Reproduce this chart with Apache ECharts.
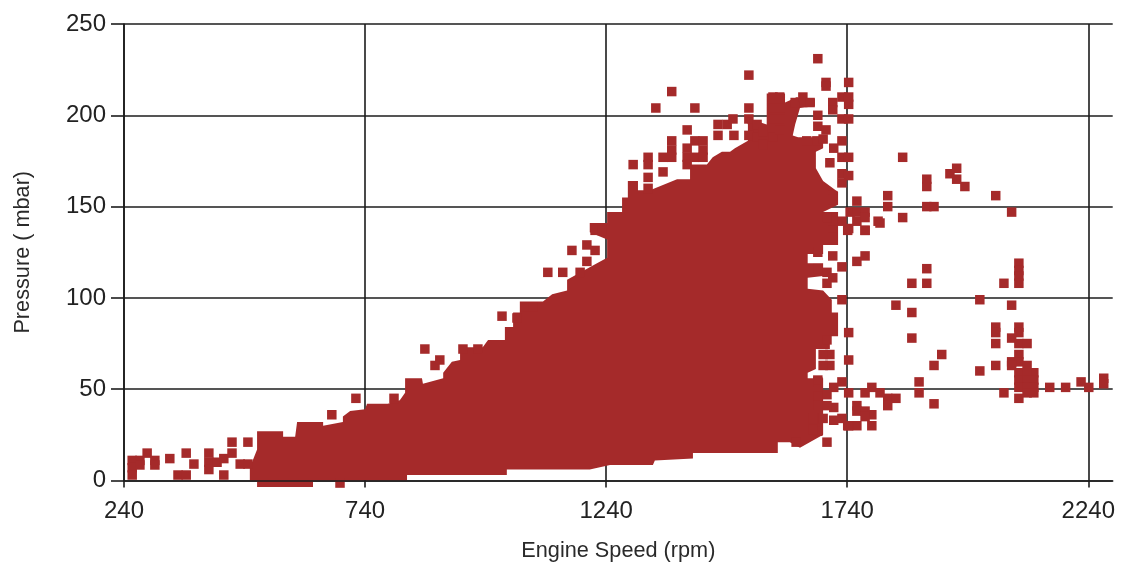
<!DOCTYPE html>
<html><head><meta charset="utf-8">
<style>html,body{margin:0;padding:0;background:#fff}#c{width:1122px;height:565px}</style>
<script src="https://cdn.jsdelivr.net/npm/echarts@6/dist/echarts.min.js"></script>
</head><body><div id="c"></div>
<script>
const xTicks = [240, 740, 1240, 1740, 2240];
const xMin = 240, xMax = 2290.6;

// Outline of the solid mass of overlapping readings [rpm, mbar]
const denseOutline = [
[501,0],[501,7],[516,17],[516,27],[570,27],[570,24],[595,24],[599,32],[653,32],[653,30],[694,32],[694,35],[709,38],[740,39],[744,42],[787,42],[812,44],[823,48],[823,56],[858,56],[860,53],[902,56],[902,59],[920,65],[937,66],[937,73],[964,73],[984,73],[995,77],[1030,77],[1030,84],[1047,84],[1047,92],[1061,92],[1061,98],[1109,98],[1128,102],[1159,104],[1159,110],[1221,119],[1242,122],[1242,132],[1206,136],[1206,141],[1242,141],[1242,147],[1273,147],[1273,155],[1285,155],[1285,164],[1306,164],[1306,159],[1331,159],[1387,165],[1414,165],[1414,173],[1449,173],[1461,177],[1480,180],[1497,180],[1507,182],[1534,186],[1534,195],[1528,199],[1573,195],[1573,212],[1611,212],[1611,207],[1636,210],[1642,209],[1673,209],[1673,205],[1642,204],[1632,195],[1627,189],[1638,188],[1690,188],[1690,182],[1675,180],[1675,171],[1690,164],[1721,158],[1721,151],[1690,147],[1721,147],[1721,129],[1690,129],[1690,124],[1658,124],[1658,119],[1690,119],[1690,112],[1658,111],[1658,105],[1690,104],[1708,99],[1708,92],[1721,92],[1721,79],[1704,79],[1704,72],[1675,72],[1675,61],[1658,59],[1658,56],[1690,56],[1690,25],[1642,18],[1621,21],[1596,21],[1596,15],[1420,15],[1420,12],[1341,11],[1337,8.5],[1248,8.5],[1206,6],[1034,6],[1034,3],[827,3],[827,0],[632,0],[632,-3.5],[516,-3.5],[516,0]
];

// Low-speed readings left of the mass
const lowSpeedPoints = [
[257,11],[273,11],[257,7],[257,3],[273,8.5],[288,15],[304,11],[304,8.5],[335,12],[369,15],[385,9],[352,3],[369,3],[416,15],[416,10],[416,6],[433,10],[447,12],[464,15],[464,21],[497,21],[447,3],[481,9],[497,9],[671,36],[721,45],[800,45],[864,72],[885,63],[895,66],[943,72],[974,72],[688,-1.4]
];

// Readings along the upper edge of the mass
const upperFringePoints = [
[1024,90],[1055,89],[1072,95],[1088,95],[1169,126],[1119,114],[1150,114],[1186,114],[1200,120],[1200,129],[1217,126],[1217,137],[1231,137],
[1296,173],[1327,177],[1327,173],[1327,166],[1327,160],[1343,204],[1358,177],[1358,169],[1376,213],[1376,186],[1376,181],[1376,177],[1408,192],[1408,182],[1408,177],[1408,173],[1424,204],[1424,186],[1424,177],[1441,186],[1441,181],[1441,177],[1472,195],[1472,189],[1491,195],[1503,198],[1505,189],
[1536,222],[1536,204],[1536,198],[1536,189],[1553,195],[1553,188],[1565,191],[1565,184],[1586,210],[1586,204],[1586,198],[1586,188],[1600,210],[1600,204],[1600,198],[1600,192],[1632,207],[1648,210],[1663,207],[1656,186],[1677,186],[1690,187],[1679,200],[1679,194],[1696,192],
[1696,218],[1696,216],[1679,231],[1710,207],[1710,203],[1729,210],[1743,218],[1743,210],[1743,206],[1729,198],[1743,198],[1729,186],[1712,182],[1729,177],[1743,177],[1704,174],[1729,168],[1743,167],[1710,156],[1729,163],[1710,154]
];

// Scattered readings at the right side of the mass and beyond
const highSpeedPoints = [
[1760,153],[1746,147],[1760,147],[1777,147],[1760,142],[1777,137],[1741,137],[1804,142],[1729,142],[1710,142],[1710,133],[1698,144],[1777,123],[1760,120],[1729,117],[1710,123],[1679,125],[1679,116],[1698,114],[1710,111],[1698,108],
[1855,177],[1905,165],[1905,161],[1967,171],[1953,168],[1967,165],[1984,161],[2048,156],[2081,147],[1824,156],[1824,150],[1905,150],[1920,150],[1855,144],[1808,141],[1777,144],[1777,137],[1743,138],
[1905,116],[1874,108],[1905,108],[2065,108],[2096,119],[2096,115],[2096,112],[2096,108],
[1729,99],[1841,96],[1874,92],[2015,99],[2081,96],[1743,81],[1874,78],[1936,69],[1920,63],[1743,66],
[2048,84],[2048,81],[2048,75],[2096,84],[2096,81],[2081,78],[2096,75],[2113,75],[2096,69],[2081,65],[2096,65],[2081,63],[2113,63],[2127,59],[2096,59],[2113,59],[2048,63],[2015,60],
[2096,55],[2113,55],[2127,55],[2096,51],[2113,51],[2127,51],[2113,48],[2127,48],[2096,45],[2065,48],
[2160,51],[2193,51],[2225,54],[2241,51],[2272,56],[2272,53],[1889,54],[1889,48],[1920,42],
[1791,51],[1777,48],[1808,48],[1824,45],[1841,45],[1824,41],[1760,41],[1760,38],[1777,38],[1791,36],[1777,35],[1791,30],[1760,30],[1743,30],[1729,34],[1743,48],[1729,54],
[1712,51],[1712,40],[1698,47],[1679,54],[1679,46],[1679,41],[1698,41],[1669,34],[1690,34],[1712,33],[1679,27],[1669,28],[1698,21],[1634,21],[1741,30],[1704,69],[1704,63],[1690,69],[1690,63],[1698,77],[1679,55]
];

const allPoints = lowSpeedPoints.concat(upperFringePoints, highSpeedPoints);

const brown = '#a52a2a', ink = '#1c1c1c';
const labelFont = 'Liberation Sans';
const chart = echarts.init(document.getElementById('c'), null, {renderer:'canvas'});
const gridLine = {show:true, lineStyle:{color:ink, width:1.6}};
const visibleLine = {show:true, onZero:false, lineStyle:{color:ink, width:1.6}};

chart.setOption({
  animation:false,
  backgroundColor:'#fff',
  grid:{left:124, top:24, right:9.3, bottom:84.5, containLabel:false, outerBoundsMode:'none'},
  xAxis:[
    {type:'value', position:'bottom', z:4, min:xMin, max:xMax,
     name:'Engine Speed (rpm)', nameLocation:'middle', nameGap:60,
     nameTextStyle:{fontFamily:labelFont, fontSize:21.7, color:'#2a2a2a'},
     axisLine:visibleLine,
     axisTick:{show:true, length:7, customValues:xTicks, lineStyle:{color:ink, width:1.6}},
     axisLabel:{customValues:xTicks, margin:19, fontFamily:labelFont, fontSize:24, color:'#222', hideOverlap:false, formatter:v=>String(v)},
     splitLine:{show:false}},
    {type:'value', position:'bottom', z:0, min:xMin, max:xMax,
     axisLine:{show:false}, axisLabel:{show:false, customValues:xTicks},
     axisTick:{show:false, customValues:xTicks}, splitLine:gridLine}
  ],
  yAxis:[
    {type:'value', position:'left', z:4, min:0, max:250, interval:50,
     name:'Pressure ( mbar)', nameLocation:'middle', nameGap:90,
     nameTextStyle:{fontFamily:labelFont, fontSize:21.7, color:'#2a2a2a'},
     axisLine:visibleLine,
     axisTick:{show:true, length:13, lineStyle:{color:ink, width:1.6}},
     axisLabel:{margin:18, fontFamily:labelFont, fontSize:24, color:'#222'},
     splitLine:{show:false}},
    {type:'value', position:'left', z:0, min:0, max:250, interval:50,
     axisLine:{show:false}, axisLabel:{show:false}, axisTick:{show:false}, splitLine:gridLine}
  ],
  series:[
    {type:'custom', coordinateSystem:'cartesian2d', xAxisIndex:0, yAxisIndex:0, z:2, silent:true, clip:false,
     data:[[xMin,0]],
     renderItem:function(params, api){
       return {type:'polygon', shape:{points:denseOutline.map(p=>api.coord(p))}, style:{fill:brown}};
     }},
    {type:'scatter', xAxisIndex:0, yAxisIndex:0, z:2, symbol:'rect', symbolSize:9.5, clip:false, large:false,
     itemStyle:{color:brown, opacity:1}, data:allPoints}
  ]
});
</script></body></html>
